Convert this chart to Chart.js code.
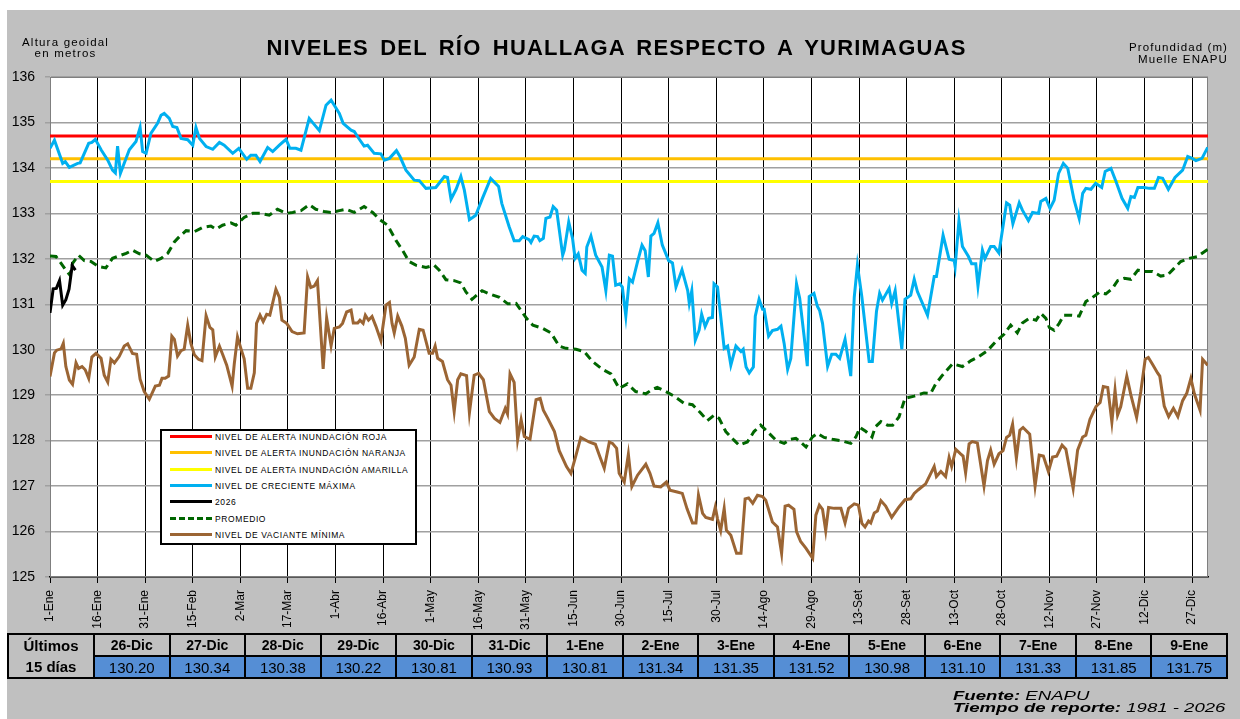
<!DOCTYPE html>
<html lang="es">
<head>
<meta charset="utf-8">
<title>Niveles del río Huallaga respecto a Yurimaguas</title>
<script src="https://cdn.jsdelivr.net/npm/chart.js@4.4.1/dist/chart.umd.min.js"></script>
<style>
body{margin:0;background:#fff;font-family:"Liberation Sans",Arial,sans-serif;}
#panel{position:absolute;left:7px;top:10px;width:1233px;height:709px;background:#c0c0c0;}
#grafico{position:absolute;left:0;top:0;}
.txt{position:absolute;white-space:nowrap;color:#000;line-height:1;}
#titulo{left:0;width:1233px;top:37px;text-align:center;font-weight:bold;font-size:22px;letter-spacing:1.2px;word-spacing:4px;}
#ejeIzq{left:22px;top:37px;font-size:11.5px;letter-spacing:1.2px;text-align:center;line-height:11px;}
#ejeDer{right:12px;top:41px;font-size:11.5px;letter-spacing:1.1px;text-align:right;line-height:12px;}
#leyenda{position:absolute;left:160px;top:429px;width:257px;height:116px;box-sizing:border-box;border:2px solid #000;background:#fff;}
.fila{position:absolute;left:0;height:16px;width:250px;}
.muestra{position:absolute;left:8px;top:6px;width:42px;height:0;border-top-width:3px;border-top-style:solid;}
.rotulo{position:absolute;left:53px;top:4px;font-size:8.5px;letter-spacing:0.6px;white-space:nowrap;line-height:1;}
#tabla{position:absolute;left:7px;top:633px;border-collapse:collapse;table-layout:fixed;width:1221px;}
#tabla td{border:2px solid #000;text-align:center;padding:0;height:20px;}
#tabla .cab{background:#c0c0c0;font-weight:bold;font-size:14px;}
#tabla .val{background:#558ed5;font-size:15px;}
#tabla .prim{background:#c0c0c0;font-weight:bold;font-size:15px;line-height:21px;}
#pie{left:953px;top:690px;font-style:italic;font-size:13px;line-height:11.5px;transform:scaleX(1.43);transform-origin:0 0;}
</style>
</head>
<body>
<div id="panel"></div>
<canvas id="grafico" width="1240" height="719"></canvas>
<div class="txt" id="titulo">NIVELES DEL RÍO HUALLAGA RESPECTO A YURIMAGUAS</div>
<div class="txt" id="ejeIzq">Altura geoidal<br>en metros</div>
<div class="txt" id="ejeDer">Profundidad (m)<br>Muelle ENAPU</div>
<div id="leyenda"></div>
<table id="tabla"><tr id="filaCab"></tr><tr id="filaVal"></tr></table>
<div class="txt" id="pie"><b>Fuente:</b> ENAPU<br><b>Tiempo de reporte:</b> 1981 - 2026</div>
<script>
// ticks of the x axis (day of year) and their labels
const diasTick = [0,15,30,45,60,75,90,105,120,135,150,165,180,195,210,225,240,255,270,285,300,315,330,345,360];
const etiquetasX = ["1-Ene","16-Ene","31-Ene","15-Feb","2-Mar","17-Mar","1-Abr","16-Abr","1-May","16-May","31-May","15-Jun",
  "30-Jun","15-Jul","30-Jul","14-Ago","29-Ago","13-Set","28-Set","13-Oct","28-Oct","12-Nov","27-Nov","12-Dic","27-Dic"];

// alert levels (m)
const alertaRoja = 134.7;
const alertaNaranja = 134.2;
const alertaAmarilla = 133.7;

// last 15 days (table)
const ultimosFechas = ["26-Dic","27-Dic","28-Dic","29-Dic","30-Dic","31-Dic","1-Ene","2-Ene","3-Ene","4-Ene","5-Ene","6-Ene","7-Ene","8-Ene","9-Ene"];
const ultimosNiveles = [130.20,130.34,130.38,130.22,130.81,130.93,130.81,131.34,131.35,131.52,130.98,131.10,131.33,131.85,131.75];

// 2026 : days 1-Ene .. 9-Ene
const dias2026 = [0,1,2,3,4,5,6,7,8];
const niveles2026 = ultimosNiveles.slice(6);

// [day, level]
const creMaxima = [[0,134.43],[1.4,134.61],[4,134.10],[4.8,134.14],[6.1,134.01],[8.7,134.10],[9.5,134.11],[12.2,134.54],[13.2,134.56],[14.3,134.63],
  [16.1,134.40],[18.2,134.17],[19.7,133.95],[20.6,133.89],[21.3,134.48],[22.2,133.88],[25,134.40],[27.1,134.58],[28.4,134.89],[29.2,134.36],
  [30.3,134.32],[31.8,134.76],[33.9,134.98],[35,135.16],[36,135.20],[37.6,135.09],[38.7,134.91],[40,134.89],[41.3,134.65],[43.4,134.62],
  [45,134.50],[46,134.89],[47.1,134.65],[49.2,134.47],[51.3,134.41],[53.4,134.56],[54.9,134.50],[57.6,134.32],[59.5,134.43],[62,134.19],
  [63.3,134.28],[64.9,134.28],[66.2,134.14],[68.6,134.45],[70.2,134.36],[72.3,134.50],[74.4,134.63],[75.6,134.43],[77.5,134.43],[79.1,134.39],
  [81.7,135.09],[83,134.98],[84.9,134.82],[87,135.38],[88.6,135.49],[89.6,135.38],[91.2,135.20],[92.4,134.98],[94.9,134.83],[95.9,134.80],
  [97.5,134.63],[99,134.48],[100.1,134.50],[102.2,134.32],[104.3,134.31],[105.4,134.17],[107,134.21],[109.2,134.38],[110.3,134.25],[112.2,133.95],
  [114.8,133.73],[116.4,133.72],[118.5,133.55],[121.6,133.57],[124.3,133.81],[125.3,133.79],[126.4,133.31],[128,133.53],[129.5,133.81],[130.6,133.51],
  [132.2,132.86],[134.2,132.96],[136.3,133.33],[138.9,133.77],[141.4,133.59],[142.4,133.22],[144.7,132.71],[146.3,132.40],[147.9,132.40],[149,132.49],
  [151,132.42],[151.6,132.36],[152.6,132.50],[153.7,132.49],[154.4,132.40],[155.5,132.45],[156.3,132.89],[157.6,132.92],[158.6,133.15],[159.7,133.07],
  [161.6,132.08],[162.1,132.19],[163.5,132.81],[164.7,132.45],[165.5,132.01],[166.5,132.11],[167.7,131.75],[168.7,131.68],[169.2,132.26],[170.5,132.50],
  [172,132.08],[174,131.82],[175.2,131.30],[176.3,132.08],[177.3,132.06],[178.3,131.42],[179.6,131.45],[180.4,131.38],[181.5,130.74],[182.6,131.56],
  [183.6,131.49],[185.2,131.94],[186.6,132.30],[187.6,132.18],[188.6,131.60],[189.4,132.50],[190.4,132.56],[191.6,132.79],[193,132.30],[195,131.96],
  [196.2,131.91],[197.3,131.38],[199.2,131.76],[201,131.30],[201.5,131.02],[202.3,131.30],[203.4,130.21],[204.6,130.43],[205.4,130.78],[206.5,130.51],
  [207.6,130.69],[208.8,130.71],[209.3,131.45],[210.4,131.38],[212.5,130.03],[213.6,130.08],[214.6,129.66],[216.2,130.08],[217.8,129.96],[218.5,130.01],
  [219.4,129.62],[220.4,129.49],[221.7,129.62],[222.3,130.74],[223.5,131.11],[224.6,130.89],[225.1,130.89],[226.5,130.30],[227.7,130.42],[229.3,130.45],
  [230.4,130.52],[231.4,130.14],[232.5,129.57],[233.5,129.81],[235.3,131.45],[236.3,131.13],[237.7,130.29],[238.7,129.64],[239.3,131.17],[240.8,131.24],
  [241.9,130.95],[242.6,130.86],[243.5,130.58],[245.1,129.63],[246.4,129.90],[247.7,129.90],[248.9,129.81],[250.6,130.23],[252.4,129.42],[253.5,131.16],
  [254.5,131.86],[255.9,131.16],[258.2,129.74],[259.2,129.74],[260.5,130.84],[261.5,131.24],[262.4,131.09],[264.5,131.35],[265.3,131.02],[266.4,131.30],
  [268.5,130.01],[269.5,131.11],[271.3,131.20],[272.4,131.55],[273.4,131.28],[275,131.02],[276.6,130.76],[278.7,131.61],[279.4,131.61],[281.5,132.52],
  [283.4,131.99],[285,131.96],[285.3,131.83],[286.5,132.84],[287.6,132.27],[289.5,132.05],[290.5,131.89],[291.8,131.89],[292.5,131.40],[293.9,132.19],
  [294.7,132.01],[296.5,132.27],[297.6,132.27],[299.1,132.13],[300.2,132.63],[301.5,133.23],[302.5,133.18],[303.5,132.77],[305.5,133.23],[306.5,133.07],
  [308.4,132.84],[309.7,133.02],[311.6,133.00],[312.3,133.26],[313.9,133.33],[315.2,133.11],[316.5,133.29],[317.9,133.88],[319.4,134.10],[320.8,133.99],
  [322.8,133.29],[324.4,132.89],[325.5,133.44],[326.5,133.55],[328.1,133.53],[329.6,133.66],[331.5,133.57],[332.6,133.92],[334.4,133.99],[336,133.70],
  [337.9,133.33],[339.7,133.11],[340.7,133.37],[341.8,133.35],[342.9,133.57],[344.9,133.57],[346.5,133.55],[348.1,133.55],[349.4,133.79],[350.7,133.77],
  [352.5,133.53],[354.6,133.79],[357,133.95],[358.6,134.25],[360,134.21],[361.2,134.16],[363.1,134.21],[364.9,134.45]];

const promedio = [[0,132.06],[1.9,132.05],[3.5,131.90],[5,131.75],[6.3,131.64],[7.1,131.90],[9,132.08],[10.8,131.96],[12.9,131.94],[15.3,131.83],
  [17.6,131.80],[19.7,132.01],[22.4,132.08],[24,132.12],[26,132.19],[28.2,132.11],[30.3,132.08],[32.9,131.94],[35,132.01],[37.1,132.12],
  [39.2,132.37],[40.8,132.49],[42.9,132.62],[45.6,132.60],[48.1,132.69],[50.7,132.72],[52.3,132.65],[54.4,132.74],[57,132.79],[58.6,132.74],
  [61.2,132.91],[63.9,133.00],[66.5,133.00],[69.1,132.96],[71.7,133.09],[74.4,133.00],[76.5,133.02],[79.1,133.06],[81.7,133.19],[83.8,133.09],
  [86.4,133.04],[88.5,133.02],[91.2,133.06],[93.3,133.09],[95.9,133.02],[99,133.15],[101.7,133.02],[103.8,132.87],[106.4,132.74],[109,132.41],
  [111.1,132.19],[113.2,131.94],[115.3,131.86],[118.5,131.81],[121.1,131.86],[122.7,131.75],[124.8,131.54],[127.4,131.52],[129.5,131.47],[131.1,131.27],
  [133,131.11],[136.2,131.30],[138.5,131.23],[141.7,131.15],[144.3,131.01],[146.9,131.02],[150.2,130.69],[152.2,130.54],[155.3,130.47],[157.9,130.37],
  [160.5,130.08],[162.6,130.03],[165.8,130.01],[168.4,129.96],[171,129.74],[174.1,129.57],[176.8,129.47],[179.4,129.15],[182,129.25],[184.6,129.08],
  [187.8,129.03],[189.9,129.13],[191.4,129.17],[194.1,129.08],[196.7,128.98],[199.9,128.82],[202.5,128.79],[205.1,128.61],[207.2,128.44],[209.3,128.56],
  [210.9,128.49],[213,128.20],[215.6,128.01],[217.2,127.90],[219.8,127.97],[221.9,128.20],[224,128.34],[226.1,128.20],[228.8,128.01],[231.4,127.94],
  [233.5,128.03],[235.1,128.05],[236.7,127.96],[238.3,127.86],[240.3,128.08],[241.9,128.16],[244,128.07],[246.6,128.03],[249.3,128.00],[252.4,127.94],
  [254,128.08],[255.3,128.29],[257.2,128.20],[259.1,128.08],[260.1,128.30],[261.9,128.42],[264,128.34],[265.6,128.34],[267.6,128.52],[269.5,128.93],
  [272.4,128.98],[275.5,129.05],[277.6,129.04],[279.2,129.25],[281.3,129.44],[284.5,129.69],[287.6,129.63],[290.3,129.76],[292.8,129.85],[295.5,129.98],
  [298.1,130.18],[300.7,130.34],[302.8,130.54],[304.9,130.37],[306.5,130.59],[308.6,130.69],[310.8,130.65],[312.3,130.80],[313.9,130.69],[315,130.49],
  [316.5,130.43],[318.1,130.58],[319.6,130.76],[321.7,130.76],[324.4,130.74],[326.5,131.06],[328.6,131.15],[330.7,131.26],[332.8,131.23],[334.9,131.35],
  [336.5,131.52],[338.6,131.57],[340.7,131.55],[342.9,131.75],[344.9,131.72],[347.5,131.72],[350.1,131.62],[352.2,131.64],[354.3,131.79],[356.4,131.94],
  [359,132.01],[361.7,132.05],[364.9,132.21]];

const vacMinima = [[0,129.41],[1.4,129.93],[2.1,129.99],[3.5,130.02],[4.2,130.14],[5,129.63],[6.1,129.33],[7.1,129.24],[8.2,129.71],[9,129.59],
  [10.1,129.63],[11.1,129.56],[12.2,129.37],[13.2,129.84],[14.5,129.92],[16.1,129.81],[17.1,129.44],[18.2,129.29],[19.2,129.79],[20.3,129.71],
  [21.8,129.85],[23.4,130.08],[24.5,130.13],[26,129.92],[27.3,129.90],[28.4,129.35],[29.7,129.08],[31.3,128.91],[33.2,129.20],[34.5,129.22],
  [35.3,129.37],[36.3,129.37],[37.4,129.42],[38.4,130.30],[39.2,130.23],[40.2,129.86],[41.3,129.98],[42.3,130.01],[43.4,130.54],[44.4,130.14],
  [45.5,129.89],[46.8,129.79],[47.9,129.76],[49.2,130.75],[50.4,130.49],[51.3,130.44],[52.1,129.84],[53.4,130.08],[54.4,129.90],[55.7,129.66],
  [57.4,129.20],[58.1,129.70],[59.1,130.28],[60.2,130.02],[61.2,129.80],[62.3,129.15],[63.3,129.15],[64.4,129.49],[65.1,130.58],[66.2,130.76],
  [67.2,130.62],[68.3,130.78],[69.3,130.76],[71.2,131.33],[72.3,131.15],[73.1,130.65],[74.6,130.58],[76.3,130.40],[78,130.35],[80.1,130.37],
  [81.2,131.60],[82.2,131.37],[83.3,131.40],[84.3,131.52],[86.1,129.58],[87.2,130.70],[88.6,130.09],[89.6,130.47],[91.2,130.50],[92.2,130.58],
  [93.5,130.83],[94.9,130.87],[95.6,130.59],[97,130.59],[97.7,130.65],[98.7,130.58],[99.4,130.76],[100.4,130.65],[101.5,130.73],[102.7,130.52],
  [104.3,130.20],[105.9,130.98],[107,131.04],[107.8,130.58],[108.5,130.37],[109.6,130.74],[110.9,130.52],[112,130.25],[113.2,129.66],[114.8,129.84],
  [116.4,130.45],[117.6,130.43],[119.5,129.92],[120.6,129.92],[121.4,130.08],[122.2,129.81],[123.7,129.74],[125.3,129.34],[126.4,129.22],[127.4,128.64],
  [128.5,129.34],[129.5,129.47],[131.3,129.43],[132.2,128.61],[133.7,129.44],[135.1,129.48],[136.6,129.34],[138.5,128.64],[140.1,128.49],[141.8,128.40],
  [143.5,128.71],[144.2,128.59],[145,129.47],[146.3,129.28],[147.4,128.02],[148.5,128.46],[149.5,128.09],[151.3,128.03],[153.2,128.90],[154.5,128.93],
  [155.5,128.67],[156.9,128.49],[159,128.20],[160.5,127.78],[162.8,127.43],[164.2,127.28],[165.8,127.68],[167.3,128.07],[169.9,127.97],[171.9,127.92],
  [173.3,127.65],[174.7,127.39],[176.3,127.97],[177.3,127.94],[178.6,127.83],[179.4,127.28],[181,127.09],[182.3,127.70],[183.4,126.99],[185.2,127.24],
  [187.8,127.48],[189.1,127.28],[190.4,127.00],[192.5,126.98],[194.3,127.09],[195.4,126.91],[197.7,126.87],[199.3,126.84],[200.8,126.50],[202.5,126.19],
  [203.6,126.19],[204.4,126.80],[205.7,126.40],[206.7,126.31],[208.8,126.27],[209.7,126.54],[210.4,126.28],[211.4,126.02],[212.5,126.51],[213.2,126.03],
  [214.6,125.92],[216.4,125.52],[217.8,125.52],[219.1,126.72],[220.2,126.74],[221.5,126.62],[223,126.80],[224.6,126.77],[225.6,126.69],[227.7,126.21],
  [229.3,126.10],[230.6,125.52],[231.7,126.56],[232.8,126.58],[234.5,126.49],[235.3,126.00],[236.6,125.78],[238.3,125.63],[240.4,125.41],[241.4,126.36],
  [242.5,126.58],[243.5,126.49],[244.5,126.02],[245.4,126.53],[247.2,126.51],[249.3,126.51],[250.6,126.19],[251.7,126.51],[253.5,126.61],[254.8,126.58],
  [255.9,126.18],[256.9,126.10],[258,126.23],[258.7,126.19],[259.8,126.41],[260.8,126.45],[261.9,126.68],[263.4,126.56],[265.3,126.31],[267.6,126.54],
  [269.5,126.70],[271.3,126.72],[272.4,126.84],[273.7,126.92],[276,127.05],[278.7,127.43],[279.4,127.21],[280.8,127.32],[282.3,127.21],[283.4,127.63],
  [284.2,127.43],[285.5,127.81],[287,127.71],[287.8,127.66],[288.6,127.29],[289.7,127.93],[290.7,127.98],[292.3,127.95],[294.4,127.00],[295.5,127.56],
  [296.5,127.79],[297.6,127.48],[299.1,127.71],[300.4,127.78],[301.5,128.07],[302.5,128.12],[303.4,128.36],[304.6,127.61],[305.7,128.23],[306.7,128.29],
  [308.8,128.14],[310.5,127.00],[311.8,127.68],[313.1,127.66],[314.7,127.32],[316,127.64],[317.3,127.66],[319,127.90],[320.2,127.81],[322.5,126.95],
  [323.9,127.79],[325.5,128.08],[326.5,128.12],[327.8,128.47],[329.7,128.75],[331,128.84],[332,129.19],[333.4,129.17],[334.7,128.41],[335.7,129.11],
  [336.5,128.56],[337.5,128.75],[339.4,129.42],[340.7,129.00],[342.5,128.51],[343.8,129.07],[345.2,129.79],[346.2,129.83],[347.5,129.68],[349.1,129.49],
  [349.8,129.42],[351.2,128.76],[352.6,128.53],[354.1,128.71],[355.5,128.53],[357,128.88],[358.3,129.04],[359.6,129.37],[360.7,129.03],[362.5,128.67],
  [363.3,129.79],[364.9,129.66]];

const FUENTE = '"Liberation Sans", Arial, sans-serif';
const pares = arr => arr.map(p => ({x: p[0], y: p[1]}));
const nivelFijo = v => [{x: 0, y: v}, {x: 365, y: v}];

const series = [
  {label: "NIVEL DE ALERTA INUNDACIÓN ROJA", data: nivelFijo(alertaRoja), borderColor: "#ff0000", order: 10},
  {label: "NIVEL DE ALERTA INUNDACIÓN NARANJA", data: nivelFijo(alertaNaranja), borderColor: "#ffc000", order: 10},
  {label: "NIVEL DE ALERTA INUNDACIÓN AMARILLA", data: nivelFijo(alertaAmarilla), borderColor: "#ffff00", order: 10},
  {label: "NIVEL DE CRECIENTE MÁXIMA", data: pares(creMaxima), borderColor: "#00b0f0", order: 5},
  {label: "2026", data: dias2026.map((d, i) => ({x: d, y: niveles2026[i]})), borderColor: "#000000", order: 1},
  {label: "PROMEDIO", data: pares(promedio), borderColor: "#006600", borderDash: [8, 5], order: 3},
  {label: "NIVEL DE VACIANTE MÍNIMA", data: pares(vacMinima), borderColor: "#9b6534", order: 4}
];
series.forEach(s => { s.borderWidth = 3; s.pointRadius = 0; s.tension = 0; s.fill = false; });

const fondo = {
  id: "fondo",
  beforeDraw(chart){
    const {ctx, chartArea: a} = chart;
    ctx.save();
    ctx.fillStyle = "#fff";
    ctx.fillRect(a.left, a.top, a.width, a.height);
    ctx.restore();
  },
  beforeDatasetsDraw(chart){
    const {ctx, chartArea: a} = chart;
    ctx.save();
    ctx.strokeStyle = "#7f7f7f";
    ctx.lineWidth = 1;
    ctx.strokeRect(a.left + 0.5, a.top + 0.5, a.width - 1, a.height - 1);
    ctx.restore();
  }
};

new Chart(document.getElementById("grafico"), {
  type: "line",
  data: {datasets: series},
  options: {
    responsive: false,
    animation: false,
    layout: {padding: {top: 77, right: 32, left: 0, bottom: 80}},
    plugins: {legend: {display: false}, tooltip: {enabled: false}},
    scales: {
      x: {
        type: "linear", min: 0, max: 365,
        afterBuildTicks: ax => { ax.ticks = diasTick.map(v => ({value: v})); },
        afterFit: ax => { ax.height = 62; },
        ticks: {autoSkip: false, minRotation: 90, maxRotation: 90, padding: 7, color: "#000",
          font: {family: FUENTE, size: 12}, callback: v => etiquetasX[diasTick.indexOf(v)]},
        grid: {color: "#000", lineWidth: 1, tickLength: 6},
        border: {color: "#000", width: 1.5}
      },
      y: {
        min: 125, max: 136,
        afterFit: ax => { ax.width = 50; },
        ticks: {stepSize: 1, padding: 10, color: "#000", font: {family: FUENTE, size: 14}},
        grid: {color: "#a0a0a0", lineWidth: 1.5, tickLength: 5},
        border: {color: "#7f7f7f", width: 1}
      }
    }
  },
  plugins: [fondo]
});

// legend
const leyenda = document.getElementById("leyenda");
series.forEach((s, i) => {
  const fila = document.createElement("div");
  fila.className = "fila";
  fila.style.top = (-2 + i * 16.33) + "px";
  const m = document.createElement("div");
  m.className = "muestra";
  m.style.borderTopColor = s.borderColor;
  if (s.borderDash) m.style.borderTopStyle = "dashed";
  const r = document.createElement("div");
  r.className = "rotulo";
  r.textContent = s.label;
  fila.appendChild(m); fila.appendChild(r);
  leyenda.appendChild(fila);
});

// last 15 days table
const filaCab = document.getElementById("filaCab");
const filaVal = document.getElementById("filaVal");
const prim = document.createElement("td");
prim.rowSpan = 2; prim.className = "prim"; prim.style.width = "84px";
prim.innerHTML = "Últimos<br>15 días";
filaCab.appendChild(prim);
ultimosFechas.forEach((f, i) => {
  const c = document.createElement("td"); c.className = "cab"; c.textContent = f; filaCab.appendChild(c);
  const v = document.createElement("td"); v.className = "val"; v.textContent = ultimosNiveles[i].toFixed(2); filaVal.appendChild(v);
});
</script>
</body>
</html>
